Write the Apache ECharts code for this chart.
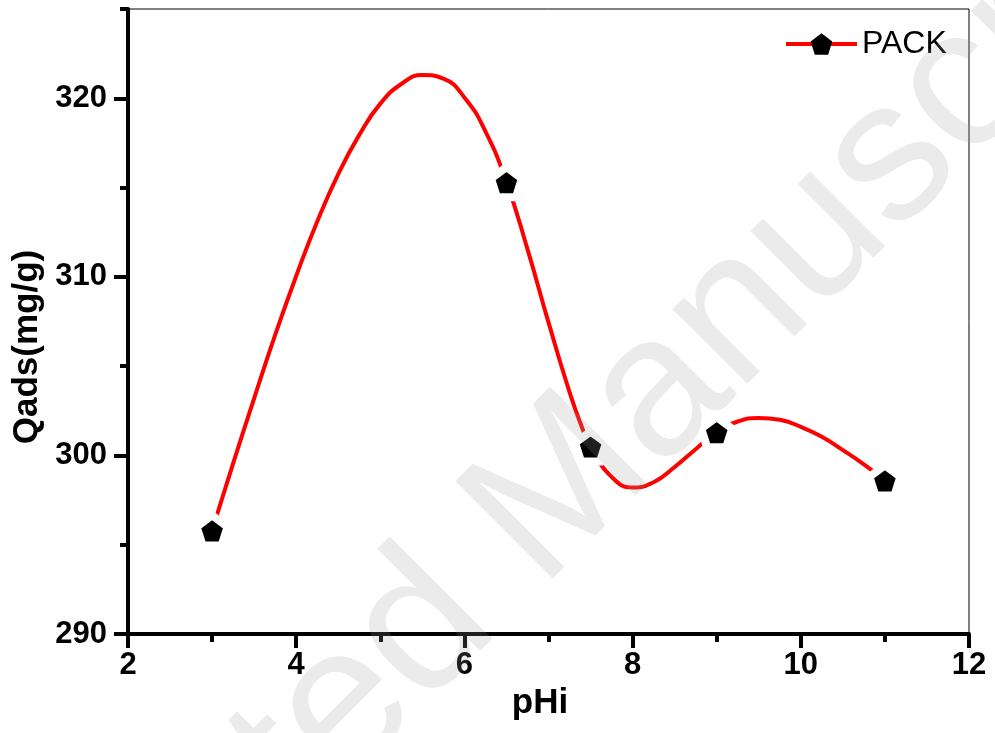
<!DOCTYPE html>
<html>
<head>
<meta charset="utf-8">
<script src="https://cdn.jsdelivr.net/npm/echarts@6/dist/echarts.min.js"></script>
<style>
html,body{margin:0;padding:0;background:#fff;}
#chart{width:995px;height:733px;}
</style>
</head>
<body>
<div id="chart"></div>
<script>
// measured points
const phi = [3, 6.5, 7.5, 9, 11];
const qads = [295.8, 315.3, 300.5, 301.3, 298.6];
const curvePhi = [3.25, 3.5, 3.75, 4.0, 4.25, 4.5, 4.75, 5.0, 5.25, 5.5, 5.75, 6.0, 6.25,
                  6.75, 7.0, 7.25, 7.4,
                  7.75, 8.0, 8.25, 8.5, 8.75,
                  9.25, 9.5, 9.75, 10.0, 10.25, 10.5, 10.75];
const curveQads = [299.55, 303.2, 306.75, 310.05, 313.1, 315.75, 317.95, 319.7, 320.8, 321.3, 321.1, 320.05, 318.15,
                   311.55, 307.45, 303.55, 301.55,
                   298.8, 298.2, 298.5, 299.35, 300.35,
                   301.9, 302.1, 302.0, 301.6, 301.05, 300.3, 299.5];
// ticks
const xMin = 2, xMax = 12, xStep = 2;
const yMin = 290, yMax = 325;
const yMajor = [290, 300, 310, 320];
const yMinor = [295, 305, 315, 325];
const seriesName = 'PACK';

const FONT = '"Liberation Sans", Arial, Helvetica, sans-serif';
const pentagon = 'path://M0,-1L0.951,-0.309L0.588,0.809L-0.588,0.809L-0.951,-0.309Z';

const pts = [];
phi.forEach((x, i) => pts.push({ value: [x, qads[i]] }));
curvePhi.forEach((x, i) => pts.push({ value: [x, curveQads[i]], symbol: 'none' }));
pts.sort((a, b) => a.value[0] - b.value[0]);

const chart = echarts.init(document.getElementById('chart'), null, { renderer: 'canvas' });
chart.setOption({
  animation: false,
  backgroundColor: '#fff',
  grid: { left: 128, right: 26, top: 9, bottom: 99, show: true, borderColor: '#000', borderWidth: 1, backgroundColor: 'transparent' },
  legend: {
    data: [seriesName], left: 784, top: 28, padding: 0, itemWidth: 71, itemHeight: 27,
    selectedMode: false, itemStyle: { borderWidth: 0 }, lineStyle: { width: 4 },
    textStyle: { fontFamily: FONT, fontSize: 32, color: '#000' }
  },
  xAxis: {
    type: 'value', min: xMin, max: xMax, interval: xStep,
    name: 'pHi', nameLocation: 'middle', nameGap: 51,
    nameTextStyle: { fontFamily: FONT, fontSize: 35, fontWeight: 'bold', color: '#000', padding: [0, 17, 0, 0] },
    axisLine: { onZero: false, lineStyle: { color: '#000', width: 4 } },
    axisTick: { show: true, inside: false, length: 14, lineStyle: { color: '#000', width: 4 } },
    minorTick: { show: true, splitNumber: 2, length: 8, lineStyle: { color: '#000', width: 4 } },
    axisLabel: { fontFamily: FONT, fontSize: 31, fontWeight: 'bold', color: '#000', margin: 16 },
    splitLine: { show: false }, minorSplitLine: { show: false }
  },
  yAxis: [{
    type: 'value', min: yMin, max: yMax, position: 'left',
    name: 'Qads(mg/g)', nameLocation: 'middle', nameGap: 81,
    nameTextStyle: { fontFamily: FONT, fontSize: 35, fontWeight: 'bold', color: '#000', padding: [0, 51, 0, 0] },
    axisLine: { onZero: false, lineStyle: { color: '#000', width: 4 } },
    axisTick: { show: true, inside: false, length: 14, customValues: yMajor, lineStyle: { color: '#000', width: 4 } },
    axisLabel: { customValues: yMajor, fontFamily: FONT, fontSize: 31, fontWeight: 'bold', color: '#000', margin: 21, padding: [0, 0, 7, 0] },
    splitLine: { show: false }
  }, {
    type: 'value', min: yMin, max: yMax, position: 'left', offset: 0,
    axisLine: { show: false, onZero: false },
    axisTick: { show: true, inside: false, length: 8, customValues: yMinor, lineStyle: { color: '#000', width: 4 } },
    axisLabel: { show: false },
    splitLine: { show: false }
  }],
  series: [{
    name: seriesName, type: 'line', yAxisIndex: 0, data: pts,
    smooth: 0.5, smoothConstraint: false,
    symbol: pentagon, symbolSize: [31, 30], showSymbol: true,
    lineStyle: { color: '#ff0000', width: 4 },
    itemStyle: { color: '#000', borderColor: '#fff', borderWidth: 8 },
    emphasis: { disabled: true }, z: 3
  }],
  graphic: [{
    type: 'text', x: -127, y: 1180, rotation: Math.PI / 4, z: 100, silent: true,
    style: {
      text: 'Accepted Manuscript', font: '200px "Liberation Sans", Arial, sans-serif',
      fill: 'rgba(157,157,157,0.2)', align: 'left', verticalAlign: 'middle',
      textAlign: 'left', textVerticalAlign: 'middle'
    }
  }]
});
</script>
</body>
</html>
